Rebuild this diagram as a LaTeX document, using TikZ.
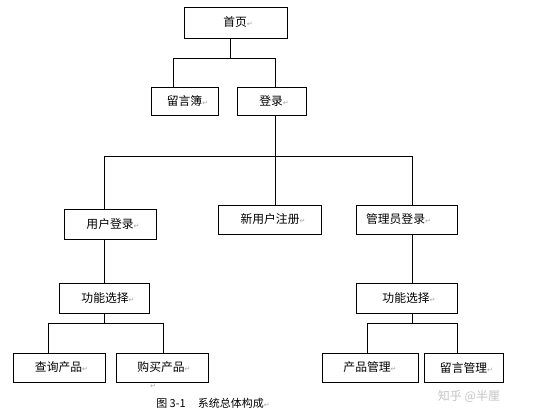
\documentclass[tikz,border=0pt]{standalone}
\usepackage{fontspec}
\setmainfont{Noto Sans CJK SC}
\newfontfamily\symfont{DejaVu Sans}
\definecolor{rtgray}{HTML}{A8A8A8}
\definecolor{wmgray}{HTML}{C4C4C4}
\newcommand{\rtmark}{{\symfont\fontsize{7}{8}\selectfont\color{rtgray}↵}}
\begin{document}
\begin{tikzpicture}[x=1pt,y=-1pt,
  box/.style={draw=black,line width=0.8pt,fill=white,inner sep=0pt,
    font=\fontsize{11.8}{13}\selectfont},
  link/.style={draw=black,line width=0.8pt}]
\useasboundingbox[fill=white] (0,0) rectangle (536,420);
% boxes
\node[box,minimum width=103pt,minimum height=31pt] (home) at (235.5,22.5) {\hspace*{5pt}首页\rtmark};
\node[box,minimum width=67pt,minimum height=28pt] (lyb) at (184.5,101) {\hspace*{6pt}留言簿\rtmark};
\node[box,minimum width=69pt,minimum height=28pt] (login) at (271.5,101) {\hspace*{5pt}登录\rtmark};
\node[box,minimum width=92pt,minimum height=30pt] (user) at (110,224) {\hspace*{6pt}用户登录\rtmark};
\node[box,minimum width=103pt,minimum height=29pt] (newuser) at (269.5,219.5) {\hspace*{7pt}新用户注册\rtmark};
\node[box,minimum width=101pt,minimum height=29pt] (admin) at (406.5,219.5) {\hspace*{-16pt}管理员登录\rtmark};
\node[box,minimum width=90pt,minimum height=30pt] (func1) at (104,298) {\hspace*{8pt}功能选择\rtmark};
\node[box,minimum width=101pt,minimum height=30pt] (func2) at (406.5,298) {\hspace*{5pt}功能选择\rtmark};
\node[box,minimum width=92pt,minimum height=29pt] (query) at (59,367.5) {\hspace*{5pt}查询产品\rtmark};
\node[box,minimum width=92pt,minimum height=29pt] (buy) at (162,367.5) {\hspace*{4pt}购买产品\rtmark};
\node[box,minimum width=96pt,minimum height=29pt] (prod) at (370,367.5) {产品管理\rtmark};
\node[box,minimum width=79pt,minimum height=29pt] (msg) at (463.5,367.5) {\hspace*{6pt}留言管理\rtmark};
% bus points
\coordinate (b1) at (230,58);
\coordinate (b1l) at (173,58);
\coordinate (b1r) at (275,58);
\coordinate (b2) at (275,156);
\coordinate (b2l) at (104,156);
\coordinate (b2r) at (412,156);
\coordinate (b3) at (104,323);
\coordinate (b3l) at (48,323);
\coordinate (b3r) at (163,323);
\coordinate (b4) at (412,323);
\coordinate (b4l) at (367,323);
\coordinate (b4r) at (457,323);
% connectors
\draw[link] (b1 |- home.south) -- (b1);
\draw[link] (b1l |- lyb.north) -- (b1l) -- (b1r) -- (b1r |- login.north);
\draw[link] (b2 |- login.south) -- (b2 |- newuser.north);
\draw[link] (b2l |- user.north) -- (b2l) -- (b2r) -- (b2r |- admin.north);
\draw[link] (b2l |- user.south) -- (b2l |- func1.north);
\draw[link] (b2r |- admin.south) -- (b2r |- func2.north);
\draw[link] (b3 |- func1.south) -- (b3);
\draw[link] (b3l |- query.north) -- (b3l) -- (b3r) -- (b3r |- buy.north);
\draw[link] (b4 |- func2.south) -- (b4);
\draw[link] (b4l |- prod.north) -- (b4l) -- (b4r) -- (b4r |- msg.north);
% texts
\node[inner sep=0pt] (stray) at (153,386) {\rtmark};
\node[inner sep=0pt,font=\fontsize{11}{12}\selectfont] (caption) at (213,403) {图 3-1\hspace{1.1em}系统总体构成\rtmark};
\node[inner sep=0pt,font=\fontsize{12}{14}\selectfont,text=wmgray] (wm) at (469,396) {知乎 @半厘};
\end{tikzpicture}
\end{document}
